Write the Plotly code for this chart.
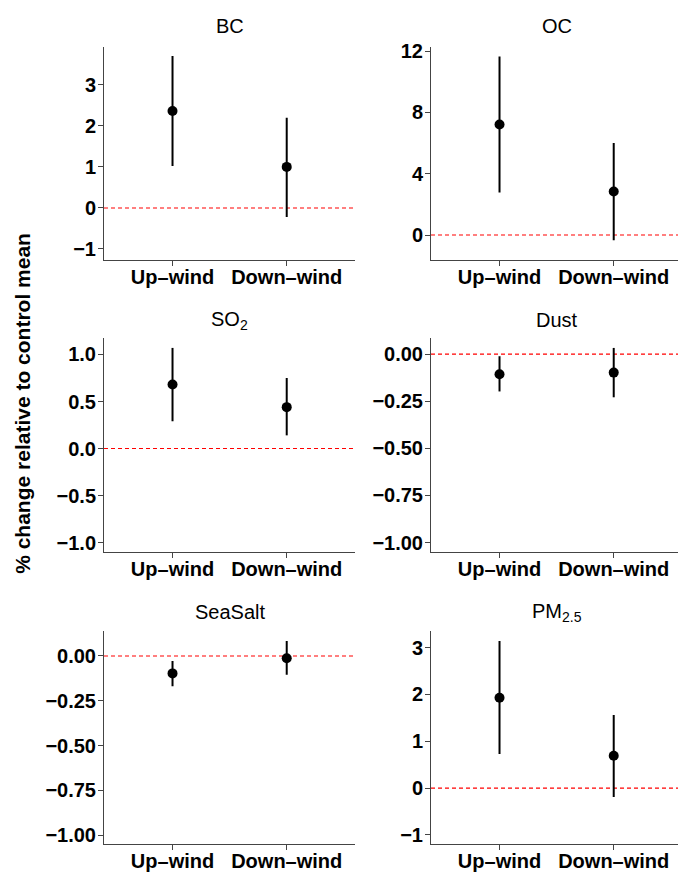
import plotly.graph_objects as go

# ---------------- data ----------------
positions = ["Up–wind", "Down–wind"]
panel_titles = ["BC", "OC", "SO<sub>2</sub>", "Dust", "SeaSalt", "PM<sub>2.5</sub>"]

bc_mean = [2.36, 1.00]
bc_lower = [1.02, -0.22]
bc_upper = [3.70, 2.20]

oc_mean = [7.22, 2.84]
oc_lower = [2.77, -0.35]
oc_upper = [11.65, 6.00]

so2_mean = [0.68, 0.44]
so2_lower = [0.29, 0.14]
so2_upper = [1.07, 0.75]

dust_mean = [-0.107, -0.098]
dust_lower = [-0.198, -0.229]
dust_upper = [-0.011, 0.033]

seasalt_mean = [-0.097, -0.013]
seasalt_lower = [-0.169, -0.105]
seasalt_upper = [-0.028, 0.083]

pm25_mean = [1.93, 0.69]
pm25_lower = [0.73, -0.19]
pm25_upper = [3.14, 1.56]

y_ticks_bc = [-1, 0, 1, 2, 3]
y_ticks_oc = [0, 4, 8, 12]
y_ticks_so2 = [-1.0, -0.5, 0.0, 0.5, 1.0]
y_ticks_dust = [-1.00, -0.75, -0.50, -0.25, 0.00]
y_ticks_seasalt = [-1.00, -0.75, -0.50, -0.25, 0.00]
y_ticks_pm25 = [-1, 0, 1, 2, 3]

# ---------------- layout helpers ----------------
W, H = 678, 876

means = [bc_mean, oc_mean, so2_mean, dust_mean, seasalt_mean, pm25_mean]
lowers = [bc_lower, oc_lower, so2_lower, dust_lower, seasalt_lower, pm25_lower]
uppers = [bc_upper, oc_upper, so2_upper, dust_upper, seasalt_upper, pm25_upper]
ticks = [y_ticks_bc, y_ticks_oc, y_ticks_so2, y_ticks_dust, y_ticks_seasalt, y_ticks_pm25]
tickfmt = [".0f", ".0f", ".1f", ".2f", ".2f", ".0f"]
yranges = [[-1.26, 3.93], [-1.61, 12.3], [-1.1, 1.176], [-1.05, 0.086], [-1.05, 0.138], [-1.2, 3.35]]

col_px = [(104, 355), (431, 678)]
col_center = [229.5, 557]
row_px = [(41, 256), (335, 551), (631, 846)]
title_y = [20, 317, 612]
px_per_unit = 114.2


def px2x(p):
    return p / W


def px2y(p):
    return (H - p) / H


fig = go.Figure()
axis_color = "#444444"

for i in range(6):
    r, c = divmod(i, 2)
    n = i + 1
    xa = "x" if n == 1 else f"x{n}"
    ya = "y" if n == 1 else f"y{n}"
    m = means[i]
    lo = lowers[i]
    hi = uppers[i]
    x0p, x1p = col_px[c]
    y0p, y1p = row_px[r]
    xr0 = 0.4
    xr1 = xr0 + (x1p - x0p) / px_per_unit
    # red dashed reference line at zero across the panel
    fig.add_trace(go.Scatter(
        x=[xr0, xr1], y=[0, 0],
        mode="lines", line=dict(color="#ff0000", width=1.1, dash="4px,3px"),
        xaxis=xa, yaxis=ya, showlegend=False, hoverinfo="skip",
    ))
    fig.add_trace(go.Scatter(
        x=[1, 2], y=m, mode="markers",
        marker=dict(color="black", size=10),
        error_y=dict(type="data", symmetric=False,
                     array=[h - v for h, v in zip(hi, m)],
                     arrayminus=[v - l for v, l in zip(m, lo)],
                     color="black", thickness=2, width=0),
        xaxis=xa, yaxis=ya, showlegend=False, cliponaxis=False,
    ))
    fig.layout[f"xaxis{n if n > 1 else ''}"] = dict(
        domain=[px2x(x0p), px2x(x1p)], anchor=ya, range=[xr0, xr1],
        tickvals=[1, 2], ticktext=positions, ticks="outside", ticklen=5,
        ticklabelstandoff=-6,
        tickcolor=axis_color, showline=True, linecolor=axis_color, linewidth=1,
        showgrid=False, zeroline=False,
        tickfont=dict(family="Liberation Sans", size=20, color="black", weight="bold"),
    )
    fig.layout[f"yaxis{n if n > 1 else ''}"] = dict(
        domain=[px2y(y1p), px2y(y0p)], anchor=xa, range=yranges[i],
        tickvals=ticks[i], tickformat=tickfmt[i], ticks="outside", ticklen=5,
        ticklabelstandoff=-2,
        tickcolor=axis_color, showline=True, linecolor=axis_color, linewidth=1,
        showgrid=False, zeroline=False,
        tickfont=dict(family="Liberation Sans", size=20, color="black", weight="bold"),
    )
    fig.add_annotation(text=panel_titles[i], xref="paper", yref="paper",
                       x=px2x(col_center[c]), y=px2y(title_y[r]),
                       showarrow=False, xanchor="center", yanchor="middle",
                       font=dict(family="Liberation Sans", size=20, color="black"))

fig.add_annotation(text="% change relative to control mean", xref="paper", yref="paper",
                   x=px2x(23), y=px2y(401.5), textangle=-90, showarrow=False,
                   xanchor="center", yanchor="middle",
                   font=dict(family="Liberation Sans", size=21, color="black", weight="bold"))

fig.update_layout(width=W, height=H, margin=dict(l=0, r=0, t=0, b=0),
                  paper_bgcolor="white", plot_bgcolor="white")

fig.write_html("out.html", config={"displayModeBar": False},
               post_script="document.body.style.margin='0';document.body.style.overflow='hidden';")
